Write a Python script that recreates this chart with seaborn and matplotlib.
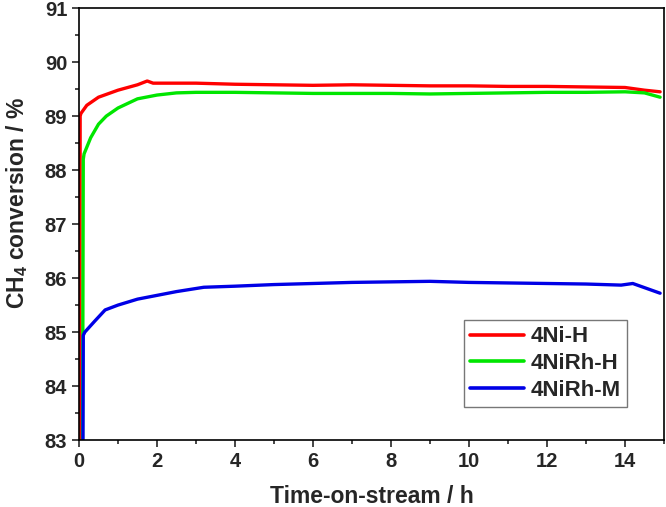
import pandas as pd
import matplotlib
matplotlib.use("Agg")
import matplotlib.pyplot as plt
import seaborn as sns
from matplotlib.ticker import MultipleLocator

# time-on-stream (h) and CH4 conversion (%)
t_ni_h = [0.02, 0.03, 0.05, 0.2, 0.5, 1.0, 1.5, 1.75, 1.9, 2.5, 3.0, 4.0, 5.0, 6.0, 7.0,
          8.0, 9.0, 10.0, 11.0, 12.0, 13.0, 14.0, 14.5, 14.9]
x_ni_h = [82.5, 89.0, 89.05, 89.2, 89.35, 89.48, 89.58, 89.65, 89.61, 89.61, 89.61, 89.59,
          89.58, 89.57, 89.58, 89.57, 89.56, 89.56, 89.55, 89.55, 89.54, 89.53, 89.48, 89.45]

t_nirh_h = [0.09, 0.11, 0.13, 0.3, 0.5, 0.7, 1.0, 1.5, 2.0, 2.5, 3.0, 4.0, 5.0, 6.0, 7.0,
            8.0, 9.0, 10.0, 11.0, 12.0, 13.0, 14.0, 14.5, 14.9]
x_nirh_h = [82.5, 88.2, 88.3, 88.6, 88.85, 89.0, 89.15, 89.32, 89.39, 89.43, 89.44, 89.44,
            89.43, 89.42, 89.42, 89.42, 89.41, 89.42, 89.43, 89.44, 89.44, 89.45, 89.43, 89.35]

t_nirh_m = [0.1, 0.11, 0.15, 0.4, 0.67, 1.0, 1.5, 2.0, 2.5, 3.2, 4.0, 5.0, 6.0, 7.0, 8.0,
            9.0, 10.0, 11.0, 12.0, 13.0, 13.9, 14.2, 14.9]
x_nirh_m = [82.5, 84.94, 85.0, 85.2, 85.41, 85.5, 85.61, 85.68, 85.75, 85.83, 85.85, 85.88,
            85.9, 85.92, 85.93, 85.94, 85.92, 85.91, 85.9, 85.89, 85.87, 85.9, 85.72]

labels = ["4Ni-H", "4NiRh-H", "4NiRh-M"]
colors = ["#ff0000", "#00e600", "#0000e6"]

sns.set_style("ticks")
plt.rcParams["font.family"] = ["Liberation Sans", "DejaVu Sans"]
plt.rcParams["font.weight"] = "bold"
plt.rcParams["mathtext.fontset"] = "custom"
plt.rcParams["mathtext.rm"] = "Liberation Sans:bold"
plt.rcParams["mathtext.bf"] = "Liberation Sans:bold"
plt.rcParams["mathtext.it"] = "Liberation Sans:bold"

fig = plt.figure(figsize=(6.66, 5.07), dpi=100)
ax = fig.add_axes([0.1186, 0.132, 0.8784, 0.852])

series = [(t_ni_h, x_ni_h), (t_nirh_h, x_nirh_h), (t_nirh_m, x_nirh_m)]
for (t, v), lab, c in zip(series, labels, colors):
    df = pd.DataFrame({"t": t, "v": v})
    sns.lineplot(data=df, x="t", y="v", ax=ax, color=c, lw=2.4, label=lab, sort=False)

ax.set_xlim(0, 15)
ax.set_ylim(83, 91)
ax.xaxis.set_major_locator(MultipleLocator(2))
ax.xaxis.set_minor_locator(MultipleLocator(1))
ax.yaxis.set_major_locator(MultipleLocator(1))
ax.yaxis.set_minor_locator(MultipleLocator(0.5))
ax.tick_params(which="major", direction="out", length=5, width=1.2, labelsize=14.5)
ax.tick_params(which="minor", direction="out", length=3, width=1.2)
for lbl in ax.get_xticklabels() + ax.get_yticklabels():
    lbl.set_fontweight("bold")
for s in ax.spines.values():
    s.set_linewidth(1.2)
    s.set_color("black")

ax.set_xlabel("Time-on-stream / h", fontsize=16.5, fontweight="bold", labelpad=10.5)
ax.set_ylabel(r"CH$_4$ conversion / %", fontsize=16.5, fontweight="bold")
ax.yaxis.set_label_coords(-0.083, 0.549)

leg = ax.legend(loc="lower right", bbox_to_anchor=(0.937, 0.076), fontsize=16,
                frameon=True, fancybox=False, handlelength=2.4, handletextpad=0.3,
                borderpad=0.3, labelspacing=0.25, borderaxespad=0)
leg.get_frame().set_edgecolor("#555555")
leg.get_frame().set_linewidth(1.0)
for line in leg.get_lines():
    line.set_linewidth(2.6)
for txt in leg.get_texts():
    txt.set_fontweight("bold")

fig.savefig("out.png", dpi=100)
